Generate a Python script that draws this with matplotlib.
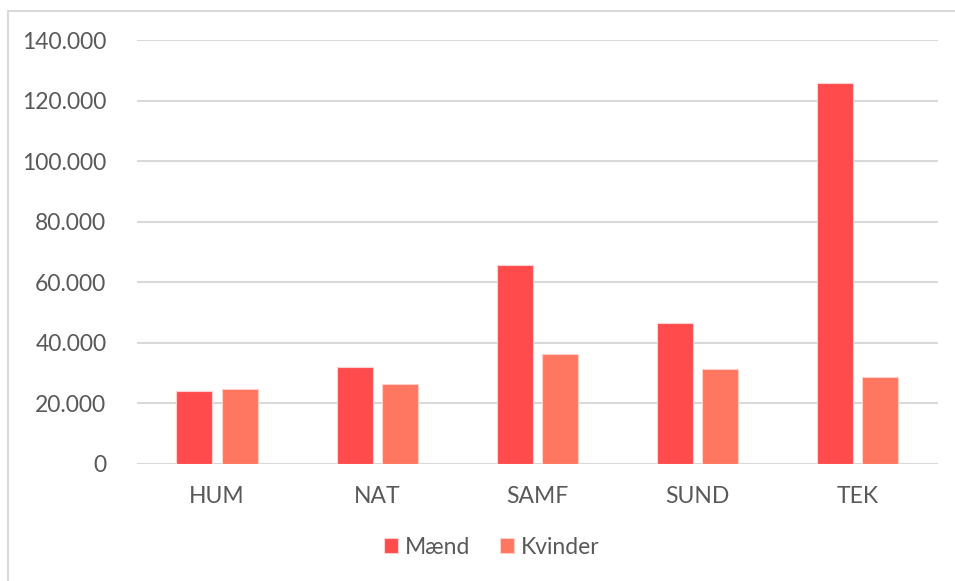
import matplotlib.pyplot as plt
import numpy as np
from matplotlib.patches import Rectangle
from matplotlib.ticker import FuncFormatter

plt.rcParams['font.family'] = ['Lato', 'DejaVu Sans']

omraader = ["HUM", "NAT", "SAMF", "SUND", "TEK"]
maend = [24100, 32000, 65700, 46600, 125800]
kvinder = [24800, 26400, 36300, 31400, 28700]

fig = plt.figure(figsize=(9.55, 5.81), dpi=100)
ax = fig.add_axes([0.1435, 0.2014, 0.8385, 0.7296])

# ramme om diagrammet (kun venstre og top ses)
fig.patches.append(Rectangle((8/955, -0.2), 1.2, 1.2 - 11/581, transform=fig.transFigure,
                             fill=False, edgecolor="#D9D9D9", linewidth=1.5))

x = np.arange(len(omraader))
w = 0.225
ax.bar(x - 0.142, maend, w, color="#FF4B4B", edgecolor="#FFD0D0", linewidth=0.8, label="Mænd", zorder=3)
ax.bar(x + 0.142, kvinder, w, color="#FF7760", edgecolor="#FFD0C8", linewidth=0.8, label="Kvinder", zorder=3)

ax.set_xlim(-0.5, 4.5)
ax.set_ylim(0, 140000)
ax.set_yticks(np.arange(0, 140001, 20000))
ax.yaxis.set_major_formatter(FuncFormatter(lambda v, p: f"{int(v):,}".replace(",", ".")))
ax.set_xticks(x)
ax.set_xticklabels(omraader)
ax.grid(axis="y", color="#D9D9D9", linewidth=1.5, zorder=0)
for s in ax.spines.values():
    s.set_visible(False)
ax.tick_params(length=0, labelsize=16.5, colors="#595959")
ax.tick_params(axis="x", pad=16)
ax.tick_params(axis="y", pad=22)

ax.legend(loc="center", bbox_to_anchor=(0.443, -0.196), ncol=2, frameon=False,
          fontsize=16.5, labelcolor="#595959", handlelength=0.6, handleheight=0.6,
          handletextpad=0.3, columnspacing=1.3)

fig.savefig("out.png", dpi=100)
